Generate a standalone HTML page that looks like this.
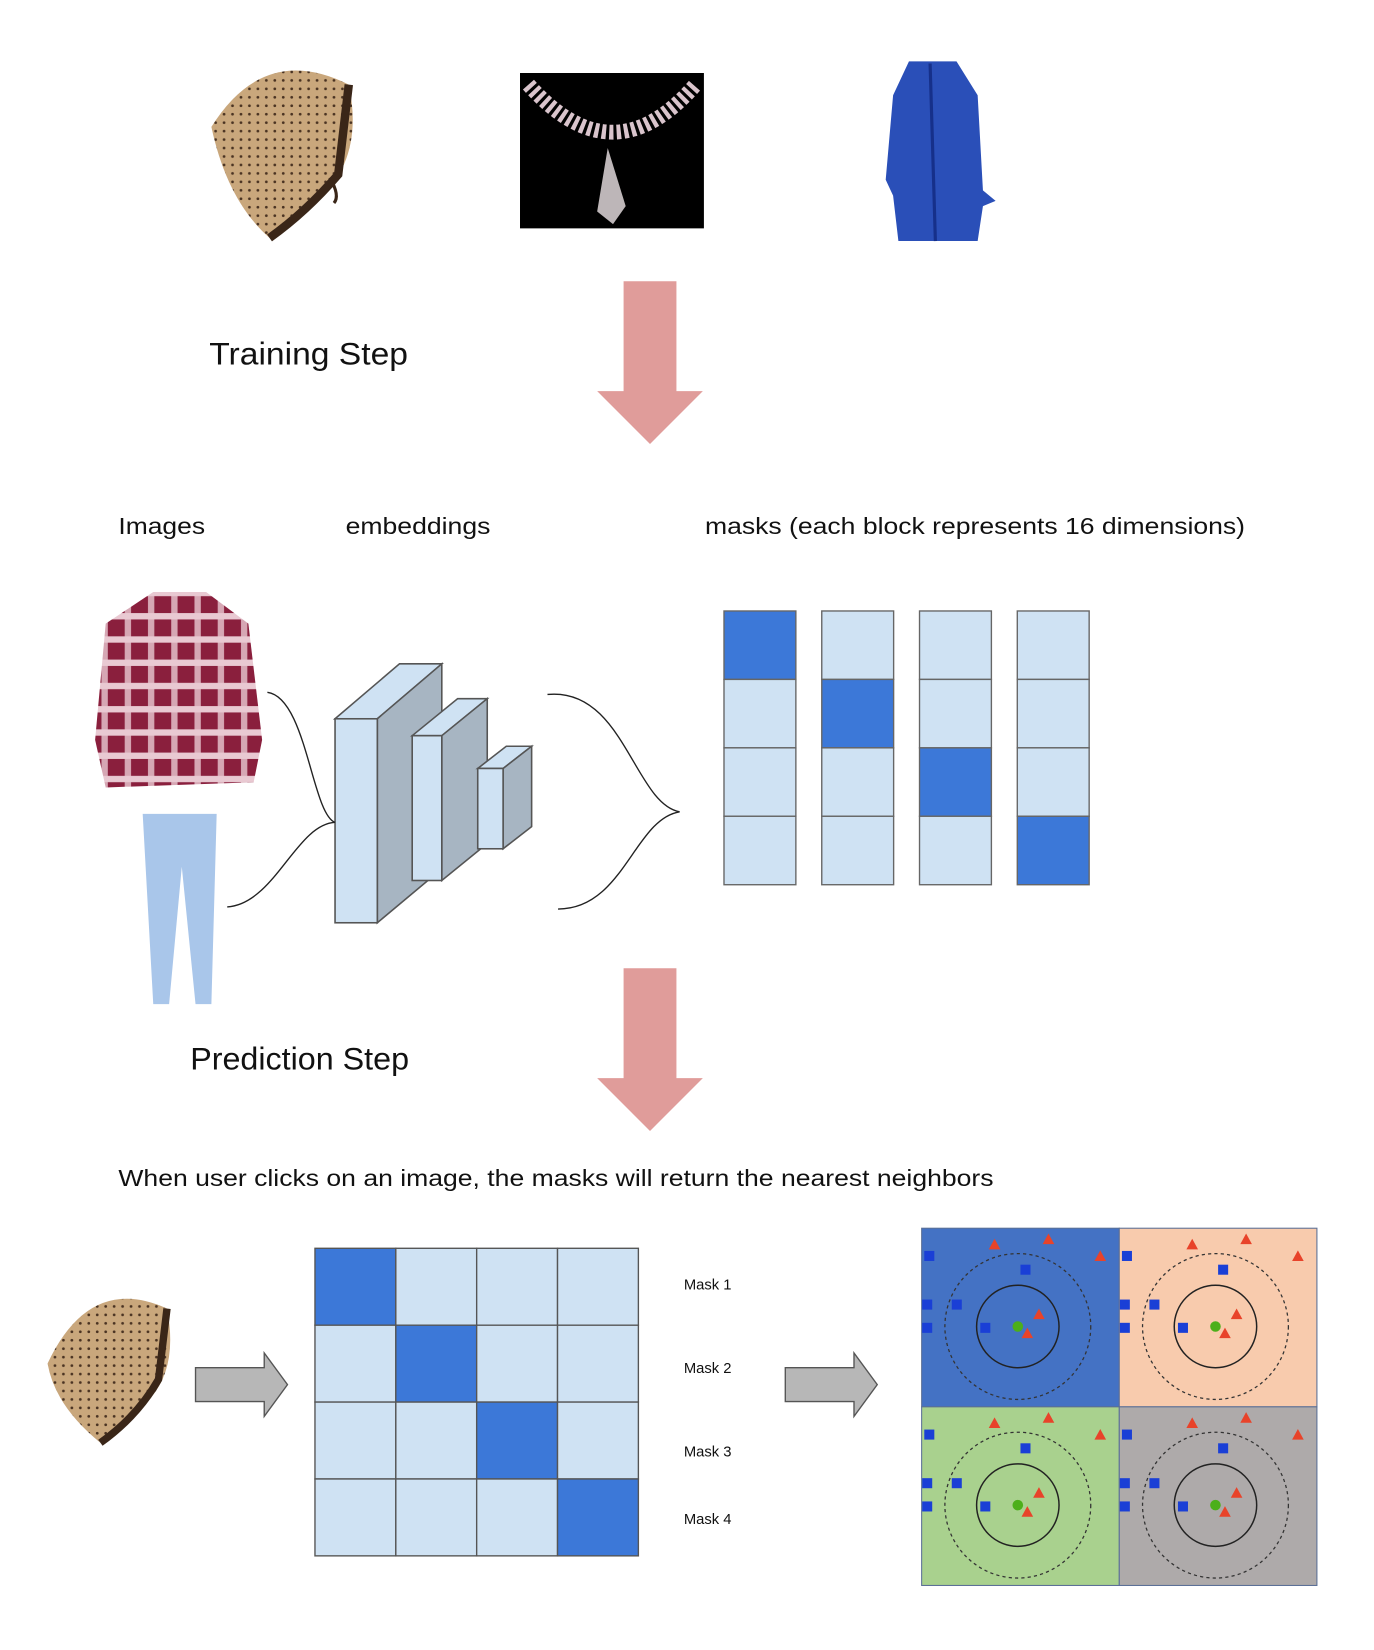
<!DOCTYPE html>
<html><head><meta charset="utf-8"><style>
html,body{margin:0;padding:0;background:#fff;}
svg{display:block;}
text{font-family:"Liberation Sans",sans-serif;fill:#111;}
</style></head><body>
<svg id="root" width="1374" height="1650" viewBox="0 0 1300 1561" xmlns="http://www.w3.org/2000/svg">
<defs>
<pattern id="plaid" width="22" height="22" patternUnits="userSpaceOnUse">
<rect width="22" height="22" fill="#8a1f3d"/><rect x="0" y="8" width="22" height="6" fill="#e9c9d2"/><rect x="8" y="0" width="6" height="22" fill="#e9c9d2" opacity="0.8"/>
</pattern>
<pattern id="dots" width="8" height="8" patternUnits="userSpaceOnUse"><rect width="8" height="8" fill="#c9a77c"/><circle cx="4" cy="4" r="1.3" fill="#4a3322"/></pattern>
</defs>

<g>
<path d="M200,120 Q250,40 330,80 Q345,150 300,190 L255,225 Q215,190 200,120Z" fill="url(#dots)"/>
<path d="M255,225 Q290,200 320,165 L330,80" fill="none" stroke="#3a2618" stroke-width="8"/>
<path d="M312,168 Q322,185 316,192" fill="none" stroke="#3a2618" stroke-width="3"/>
</g>
<g>
<rect x="492" y="69" width="174" height="147" fill="#000"/>
<path d="M500,80 Q580,170 658,80" fill="none" stroke="#d9c4cc" stroke-width="14" stroke-dasharray="4 3"/>
<path d="M575,140 L565,200 L580,212 L592,195 Z" fill="#bdb6b8"/>
</g>
<g>
<path d="M860,58 L905,58 L925,90 L930,180 L942,190 L930,195 L925,228 L850,228 L845,185 L838,170 L845,90 Z" fill="#2a4fb8"/>
<path d="M880,60 L885,228" stroke="#16308a" stroke-width="3"/>
</g>

<g>
<polygon points="590,266 640,266 640,370 665,370 615,420 565,370 590,370" fill="#e09c9a"/>
</g>
<text x="198" y="345" font-size="30" textLength="188" lengthAdjust="spacingAndGlyphs">Training Step</text>

<text x="112" y="505" font-size="22" textLength="82" lengthAdjust="spacingAndGlyphs">Images</text>
<text x="327" y="505" font-size="22" textLength="137" lengthAdjust="spacingAndGlyphs">embeddings</text>
<text x="667" y="505" font-size="22" textLength="511" lengthAdjust="spacingAndGlyphs">masks (each block represents 16 dimensions)</text>

<g>
<path d="M145,560 L195,560 L235,590 L248,700 L240,740 L100,745 L90,700 L100,590 Z" fill="url(#plaid)"/>
</g>
<g>
<path d="M135,770 L205,770 L200,950 L185,950 L172,820 L160,950 L145,950 Z" fill="#a9c6ea"/>
</g>

<g stroke="#555" stroke-width="1.5">
<polygon points="317,680 378,628 418,628 357,680" fill="#cfe2f3"/>
<polygon points="357,680 418,628 418,822 357,873" fill="#a7b5c2"/>
<rect x="317" y="680" width="40" height="193" fill="#cfe2f3"/>
<polygon points="390,696 433,661 461,661 418,696" fill="#cfe2f3"/>
<polygon points="418,696 461,661 461,798 418,833" fill="#a7b5c2"/>
<rect x="390" y="696" width="28" height="137" fill="#cfe2f3"/>
<polygon points="452,727 479,706 503,706 476,727" fill="#cfe2f3"/>
<polygon points="476,727 503,706 503,782 476,803" fill="#a7b5c2"/>
<rect x="452" y="727" width="24" height="76" fill="#cfe2f3"/>
</g>
<g fill="none" stroke="#222" stroke-width="1.3">
<path d="M253,655 C290,660 295,770 317,778"/>
<path d="M215,858 C260,855 280,780 317,778"/>
<path d="M518,657 C590,650 600,760 643,768 C600,775 590,860 528,860"/>
</g>

<g id="masks-cols"></g>

<g>
<polygon points="590,916 640,916 640,1020 665,1020 615,1070 565,1020 590,1020" fill="#e09c9a"/>
</g>
<text x="180" y="1012" font-size="30" textLength="207" lengthAdjust="spacingAndGlyphs">Prediction Step</text>
<text x="112" y="1122" font-size="22" textLength="828" lengthAdjust="spacingAndGlyphs">When user clicks on an image, the masks will return the nearest neighbors</text>

<g>
<path d="M45,1290 Q85,1205 158,1238 Q170,1300 135,1330 L95,1365 Q52,1330 45,1290Z" fill="url(#dots)"/>
<path d="M95,1365 Q130,1340 150,1305 L158,1238" fill="none" stroke="#3a2618" stroke-width="7"/>
</g>
<g>
<polygon points="185,1294 250,1294 250,1280 272,1310 250,1340 250,1326 185,1326" fill="#b7b7b7" stroke="#555" stroke-width="1.3"/>
</g>
<g id="mask-grid"></g>
<g id="mask-labels"></g>
<g>
<polygon points="743,1294 808,1294 808,1280 830,1310 808,1340 808,1326 743,1326" fill="#b7b7b7" stroke="#555" stroke-width="1.3"/>
</g>
<g id="knn"></g>
</svg>
<script>
const maskActive = [0, 1, 2, 3];
const maskLabels = ["Mask 1", "Mask 2", "Mask 3", "Mask 4"];
const quadColors = ["#4472c4", "#f8cbad", "#a9d18e", "#aeaaaa"];
const squaresX = [7, 5, 5, 33, 60, 98];
const squaresY = [26, 72, 94, 72, 94, 39];
const trianglesX = [69, 120, 169, 111, 100];
const trianglesY = [15, 10, 26, 81, 99];
const centerPt = [91, 93];
const radii = [39, 69];

const NS = "http://www.w3.org/2000/svg";
function mk(tag, attrs, parent) { const e = document.createElementNS(NS, tag); for (const k in attrs) e.setAttribute(k, attrs[k]); parent.appendChild(e); return e; }

const mc = document.getElementById('masks-cols');
const colX = c => 685 + c * 92.5, rowY = r => 578 + r * 64.75;
maskActive.forEach((a, c) => {
  for (let r = 0; r < 4; r++) {
    const el = mk('rect', {x: colX(c), y: rowY(r), width: 68, height: 64.75, fill: r === a ? '#3c78d8' : '#cfe2f3', stroke: '#666', 'stroke-width': 1.3}, mc);
    
    
  }
});
const mg = document.getElementById('mask-grid');
const gx = c => 298 + c * 76.5, gy = r => 1181 + r * 72.75;
maskActive.forEach((a, r) => {
  for (let c = 0; c < 4; c++) {
    const el = mk('rect', {x: gx(c), y: gy(r), width: 76.5, height: 72.75, fill: c === a ? '#3c78d8' : '#cfe2f3', stroke: '#555', 'stroke-width': 1.3}, mg);
    
    
  }
});
const ml = document.getElementById('mask-labels');
const labelY = [1220, 1299, 1378, 1442];
maskLabels.forEach((t, i) => {
  const el = mk('text', {x: 647, y: labelY[i], 'font-size': 14}, ml);
  el.textContent = t;
  
  
});
const kn = document.getElementById('knn');
const qx = [872, 1059, 872, 1059], qy = [1162, 1162, 1331, 1331];
quadColors.forEach((col, q) => {
  const g = mk('g', {transform: `translate(${qx[q]},${qy[q]})`}, kn);
  
  
  mk('rect', {x: 0, y: 0, width: 187, height: 169, fill: col, stroke: '#5a6f96', 'stroke-width': 1}, g);
  mk('circle', {cx: centerPt[0], cy: centerPt[1], r: radii[1], fill: 'none', stroke: '#333', 'stroke-width': 1.2, 'stroke-dasharray': '3 3'}, g);
  mk('circle', {cx: centerPt[0], cy: centerPt[1], r: radii[0], fill: 'none', stroke: '#222', 'stroke-width': 1.4}, g);
  squaresX.forEach((x, i) => {
    const s = mk('rect', {x: x - 4.5, y: squaresY[i] - 4.5, width: 9.5, height: 9.5, fill: '#1a3fd6'}, g);
    
    
  });
  trianglesX.forEach((x, i) => {
    const y = trianglesY[i];
    const t = mk('polygon', {points: `${x},${y - 5} ${x + 5.5},${y + 5} ${x - 5.5},${y + 5}`, fill: '#e8432a'}, g);
    
    
  });
  const c = mk('circle', {cx: centerPt[0], cy: centerPt[1], r: 5, fill: '#4caf1a'}, g);
  
  
});
</script>
</body></html>
